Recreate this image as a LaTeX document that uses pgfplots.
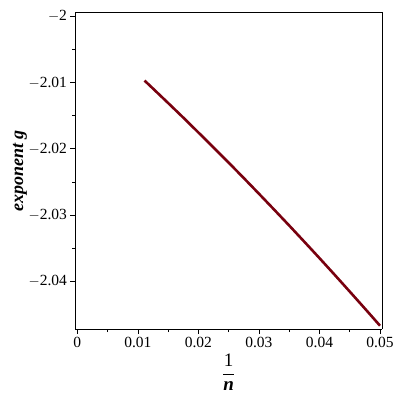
\documentclass[border=0pt]{standalone}
\usepackage{pgfplots}
\pgfplotsset{compat=1.18}
\usepackage{fontspec}
\setmainfont{Liberation Serif}
\definecolor{burg}{RGB}{120,0,14}
\begin{document}
\begin{tikzpicture}
\begin{axis}[
  scale only axis,
  width=306.5pt, height=316.3pt,
  xmin=-0.0003, xmax=0.05033,
  ymin=-2.0472, ymax=-1.99946,
  axis x line*=bottom, axis y line*=left,
  axis line style={line width=0.8pt},
  tick align=outside,
  scaled ticks=false,
  xtick={0,0.01,0.02,0.03,0.04,0.05},
  xticklabels={0,0.01,0.02,0.03,0.04,0.05},
  ytick={-2,-2.01,-2.02,-2.03,-2.04},
  yticklabels={$-$2,$-$2.01,$-$2.02,$-$2.03,$-$2.04},
  minor x tick num=1, minor y tick num=1,
  major tick length=5pt, minor tick length=3pt,
  tick style={black, line width=0.6pt},
  ticklabel style={font=\fontsize{15.5}{15.5}\selectfont},
  xlabel={{\fontsize{19}{19}\selectfont$\displaystyle\frac{\mbox{1}}{\mbox{\bfseries\itshape n}}$}},
  xlabel style={at={(axis description cs:0.5,-0.136)}, anchor=center},
  ylabel={\textbf{\textit{exponent g}}},
  ylabel style={font=\fontsize{18}{18}\selectfont, at={(axis description cs:-0.181,0.5)}, anchor=center},
  clip=false,
]
\addplot[burg, line width=2.6pt, line join=round, line cap=butt] coordinates {
(0.0111,-2.0097)
(0.0125,-2.01091)
(0.015,-2.01309)
(0.0175,-2.01529)
(0.02,-2.01754)
(0.0225,-2.01980)
(0.025,-2.02209)
(0.0275,-2.02442)
(0.03,-2.02678)
(0.0325,-2.02917)
(0.035,-2.03158)
(0.0375,-2.03403)
(0.04,-2.03650)
(0.0425,-2.03901)
(0.045,-2.04155)
(0.0475,-2.04411)
(0.05,-2.0467)
};
\draw[line width=0.8pt] (rel axis cs:0,1) -- (rel axis cs:1,1) -- (rel axis cs:1,0);
\end{axis}
\useasboundingbox ([xshift=-75.5pt,yshift=-71pt]current axis.south west) rectangle ([xshift=324.5pt,yshift=329pt]current axis.south west);
\end{tikzpicture}
\end{document}
